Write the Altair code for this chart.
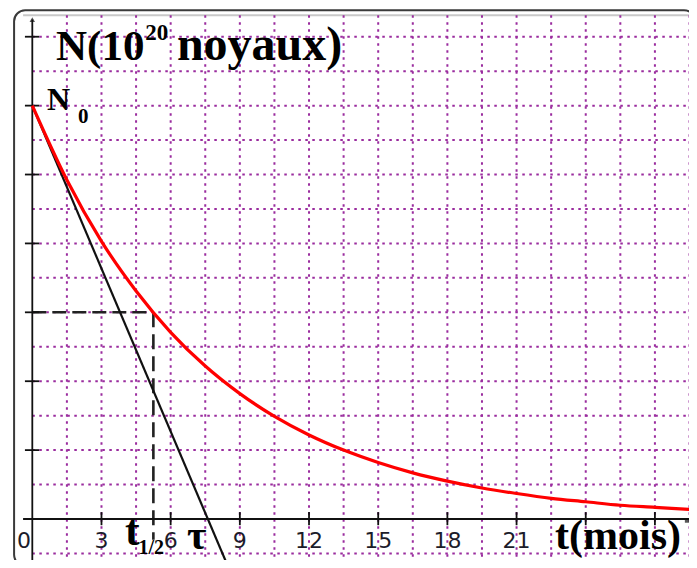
import altair as alt
import pandas as pd

# ---- data ----
t_curve = [0, 1.5, 3, 4.5, 6, 7.5, 9, 10.5, 12, 13.5, 15, 16.5, 18, 19.5, 21, 22.5, 24, 25.5, 27, 28.5, 30]
n_curve = [6.00, 4.92, 4.03, 3.31, 2.71, 2.22, 1.82, 1.49, 1.22, 1.00, 0.82, 0.67, 0.55, 0.45, 0.37, 0.30, 0.25, 0.20, 0.17, 0.14, 0.11]

t_tangent = [0, 8.5]
n_tangent = [6.0, -0.7]

t_half = 5.25
n_half = 3.0

grid_t = [1.5, 3, 4.5, 6, 7.5, 9, 10.5, 12, 13.5, 15, 16.5, 18, 19.5, 21, 22.5, 24, 25.5, 27, 28.5]
grid_n = [-0.5, 0.5, 1, 1.5, 2, 2.5, 3, 3.5, 4, 4.5, 5, 5.5, 6, 6.5, 7]

xtick_vals = [3, 6, 9, 12, 15, 18, 21, 24, 27]
ytick_vals = [1, 2, 3, 4, 5, 6, 7]
xlabel_vals = [0, 3, 6, 9, 12, 15, 18, 21]
xlabel_pos = [-0.36, 3, 6, 9, 12, 15, 18, 21]

# ---- scales ----
xs = alt.Scale(domain=[-1.054, 28.478], nice=False, zero=False)
ys = alt.Scale(domain=[-0.595, 7.417], nice=False, zero=False)

GRID = "#9a2c9e"
SERIF = "Liberation Serif"


def X(field="t", **kw):
    return alt.X(f"{field}:Q", scale=xs, axis=None, **kw)


def Y(field="n", **kw):
    return alt.Y(f"{field}:Q", scale=ys, axis=None, **kw)


# frame
frame = alt.Chart(pd.DataFrame({"x": [-0.79], "x2": [28.74], "y": [7.385], "y2": [-0.68]})).mark_rect(
    cornerRadius=11, fillOpacity=0, stroke="#3a3a3a", strokeWidth=2, clip=True
).encode(x=X("x"), x2="x2:Q", y=Y("y"), y2="y2:Q")

topgray = alt.Chart(pd.DataFrame({"x": [-0.4], "x2": [29.5], "y": [7.31]})).mark_rule(
    color="#c8c8c8", strokeWidth=2, clip=True
).encode(x=X("x"), x2="x2:Q", y=Y("y"))

# grid
vgrid = alt.Chart(pd.DataFrame({"t": grid_t, "y": [7.31] * len(grid_t), "y2": [-1] * len(grid_t)})).mark_rule(
    color=GRID, strokeWidth=2, strokeDash=[2.5, 4.5], clip=True
).encode(x=X("t"), y=Y("y"), y2="y2:Q")

hgrid = alt.Chart(pd.DataFrame({"n": grid_n, "x": [0] * len(grid_n), "x2": [30] * len(grid_n)})).mark_rule(
    color=GRID, strokeWidth=2, strokeDash=[2.5, 4.5], clip=True
).encode(y=Y("n"), x=X("x"), x2="x2:Q")

# axes
xaxis = alt.Chart(pd.DataFrame({"x": [-0.4], "x2": [28.52], "n": [0]})).mark_rule(
    color="#111", strokeWidth=1.8, clip=True
).encode(x=X("x"), x2="x2:Q", y=Y("n"))

yaxis = alt.Chart(pd.DataFrame({"t": [0], "y": [7.25], "y2": [-1]})).mark_rule(
    color="#111", strokeWidth=1.8, clip=True
).encode(x=X("t"), y=Y("y"), y2="y2:Q")

yarrow = alt.Chart(pd.DataFrame({"t": [0], "n": [7.25]})).mark_point(
    shape="triangle-up", filled=True, color="#111", size=30, clip=True
).encode(x=X("t"), y=Y("n"))

xarrow = alt.Chart(pd.DataFrame({"t": [28.4], "n": [-0.02]})).mark_point(
    shape="square", filled=True, color="#111", size=22, clip=True
).encode(x=X("t"), y=Y("n"))

xticks = alt.Chart(pd.DataFrame({"t": xtick_vals, "y": [0.1] * len(xtick_vals), "y2": [-0.09] * len(xtick_vals)})).mark_rule(
    color="#111", strokeWidth=1.8
).encode(x=X("t"), y=Y("y"), y2="y2:Q")

yticks = alt.Chart(pd.DataFrame({"n": ytick_vals, "x": [-0.32] * len(ytick_vals), "x2": [0.3] * len(ytick_vals)})).mark_rule(
    color="#111", strokeWidth=1.8
).encode(y=Y("n"), x=X("x"), x2="x2:Q")

# dashed construction lines
dash_h = alt.Chart(pd.DataFrame({"x": [0], "x2": [t_half], "n": [n_half]})).mark_rule(
    color="#222", strokeWidth=2.6, strokeDash=[14, 6]
).encode(x=X("x"), x2="x2:Q", y=Y("n"))

dash_v = alt.Chart(pd.DataFrame({"t": [t_half], "y": [n_half], "y2": [-0.3]})).mark_rule(
    color="#222", strokeWidth=2.6, strokeDash=[15, 7]
).encode(x=X("t"), y=Y("y"), y2="y2:Q")

# tangent and curve
tangent = alt.Chart(pd.DataFrame({"t": t_tangent, "n": n_tangent})).mark_line(
    color="#111", strokeWidth=2.2, clip=True
).encode(x=X("t"), y=Y("n"))

curve = alt.Chart(pd.DataFrame({"t": t_curve, "n": n_curve})).mark_line(
    color="#ff0000", strokeWidth=3.2, interpolate="monotone", clip=True
).encode(x=X("t"), y=Y("n"))

# tick labels
xlabels = alt.Chart(pd.DataFrame({"t": xlabel_pos, "n": [-0.42] * len(xlabel_pos), "lab": [str(v) for v in xlabel_vals]})).mark_text(
    font="DejaVu Sans", fontSize=22, color="#1c1c2a", align="center", baseline="alphabetic"
).encode(x=X("t"), y=Y("n"), text="lab:N")


def label(txt, t, n, size, weight="bold", align="left", font=SERIF):
    return alt.Chart(pd.DataFrame({"t": [t], "n": [n], "lab": [txt]})).mark_text(
        font=font, fontSize=size, fontWeight=weight, color="#000", align=align, baseline="alphabetic"
    ).encode(x=X("t"), y=Y("n"), text="lab:N")


texts = [
    label("N(10", 1.03, 6.66, 43),
    label("20", 4.90, 6.95, 23),
    label("noyaux)", 6.27, 6.66, 48),
    label("N", 0.64, 5.94, 32),
    label("0", 1.98, 5.75, 21),
    label("t", 4.02, -0.38, 44),
    label("1/2", 4.60, -0.51, 20),
    label("τ", 6.71, -0.44, 42),
    label("t(mois)", 22.67, -0.44, 42),
]

chart = alt.layer(
    frame, topgray, vgrid, hgrid, dash_h, dash_v, xaxis, yaxis, yarrow, xarrow, xticks, yticks,
    tangent, curve, xlabels, *texts
).properties(
    width=681, height=552, padding=0, autosize=alt.AutoSizeParams(type="none")
).configure_view(stroke=None)

chart.save("out.html", embed_options={"renderer": "svg", "actions": False})
